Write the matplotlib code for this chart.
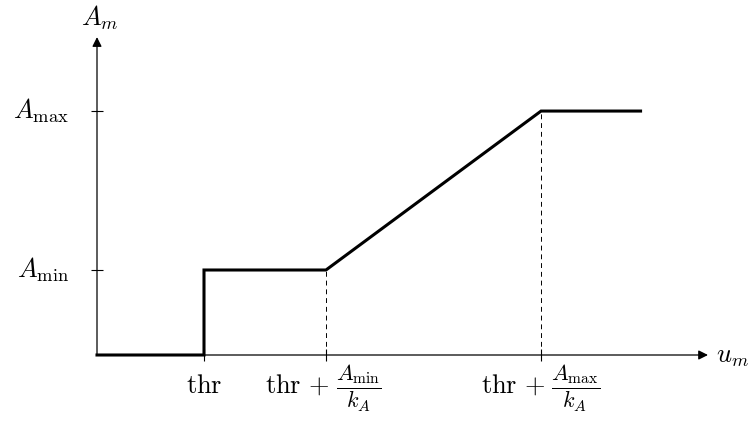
import matplotlib.pyplot as plt

plt.rcParams['mathtext.fontset'] = 'cm'
plt.rcParams['font.family'] = ['DejaVu Serif']

# breakpoints of the piecewise curve (arbitrary units)
thr = 1.0
u_lo = 2.14      # thr + A_min / k_A
u_hi = 4.15      # thr + A_max / k_A
u_end = 5.08
a_min = 1.0
a_max = 2.87

u_pts = [0, thr, thr, u_lo, u_hi, u_end]
a_pts = [0, 0, a_min, a_min, a_max, a_max]

x_ticks = [thr, u_lo, u_hi]
x_fracs = [None, r'$\dfrac{A_{\min}}{k_A}$', r'$\dfrac{A_{\max}}{k_A}$']
y_ticks = [a_min, a_max]
y_labels = [r'$A_{\min}$', r'$A_{\max}$']

x_arrow = 5.71
y_arrow = 3.74

fig = plt.figure(figsize=(7.51, 4.23), dpi=100)
ax = fig.add_axes([0, 0, 1, 1])
ax.set_xlim(-97 / 107, (751 - 97) / 107)
ax.set_ylim(-68 / 85, 355 / 85)
for s in ax.spines.values():
    s.set_visible(False)
ax.spines['left'].set_position(('data', 0))
ax.spines['bottom'].set_position(('data', 0))

# axes with arrowheads
arrow = dict(arrowstyle='-|>', color='black', lw=0.9, mutation_scale=14, shrinkA=0, shrinkB=0)
ax.annotate('', xy=(x_arrow, 0), xytext=(0, 0), arrowprops=arrow)
ax.annotate('', xy=(0, y_arrow), xytext=(0, 0), arrowprops=arrow)

# ticks
ax.set_xticks(x_ticks)
ax.set_yticks(y_ticks)
ax.set_xticklabels([])
ax.set_yticklabels([])
ax.tick_params(direction='inout', length=8, width=0.8, color='black')

# dashed guides
for u, a in [(u_lo, a_min), (u_hi, a_max)]:
    ax.plot([u, u], [0, a], color='black', lw=0.7, ls=(0, (5, 4)))

# the curve
ax.plot(u_pts, a_pts, color='black', lw=2.2, solid_joinstyle='miter')

# labels
fs = 19
base = -27  # points below the u axis
for u, frac in zip(x_ticks, x_fracs):
    if frac is None:
        ax.annotate(r'$\mathrm{thr}$', xy=(u, 0), xytext=(0, base), textcoords='offset points',
                    ha='center', va='baseline', fontsize=fs)
    else:
        ax.annotate(r'$\mathrm{thr}\,+$', xy=(u, 0), xytext=(3, base), textcoords='offset points',
                    ha='right', va='baseline', fontsize=fs)
        ax.annotate(frac, xy=(u, 0), xytext=(7, base), textcoords='offset points',
                    ha='left', va='baseline', fontsize=16)
for a, lab in zip(y_ticks, y_labels):
    ax.annotate(lab, xy=(0, a), xytext=(-20, 0), textcoords='offset points',
                ha='right', va='center', fontsize=fs)
ax.annotate(r'$A_m$', xy=(0, y_arrow), xytext=(2, 4), textcoords='offset points',
            ha='center', va='bottom', fontsize=fs)
ax.annotate(r'$u_m$', xy=(x_arrow, 0), xytext=(6, -1), textcoords='offset points',
            ha='left', va='center', fontsize=fs)

fig.savefig('out.png', dpi=100)
